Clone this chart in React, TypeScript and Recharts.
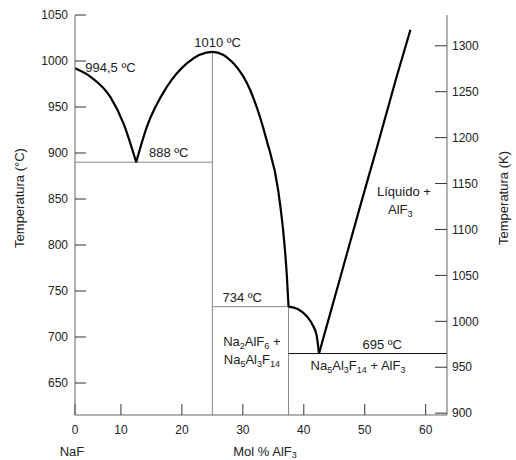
import { LineChart, Line, XAxis, YAxis, ReferenceDot } from 'recharts';

const FONT = '"Liberation Sans", Arial, Helvetica, sans-serif';

// composition axis as drawn (its left edge is labelled 0)
const X_MIN = 2.46;
const X_MAX = 63.5;
const C_MIN = 615.2;
const C_MAX = 1050;
const K_MIN = 898;
const K_MAX = 1333.5;

const xTicks = [X_MIN, 10, 20, 30, 40, 50, 60];
const topTicks = [10, 20, 30, 40, 50, 60];
const cTicks = [650, 700, 750, 800, 850, 900, 950, 1000, 1050];
const kTicks = [900, 950, 1000, 1050, 1100, 1150, 1200, 1250, 1300];

// liquidus curves: x = mol % AlF3, t = °C
const naFLiquidus = [
  { x: X_MIN, t: 992 },
  { x: 4.97, t: 983 },
  { x: 8.25, t: 961 },
  { x: 10.43, t: 932 },
  { x: 12.5, t: 890 },
];
const cryoliteLiquidus = [
  { x: 12.5, t: 890 },
  { x: 14.26, t: 928.6 },
  { x: 17.54, t: 972 },
  { x: 20.8, t: 997.5 },
  { x: 25, t: 1010 },
  { x: 28.46, t: 997.5 },
  { x: 31.2, t: 968.5 },
  { x: 33.9, t: 914 },
  { x: 35.79, t: 860 },
  { x: 36.77, t: 805 },
  { x: 37.2, t: 769 },
  { x: 37.5, t: 733 },
];
const chioliteLiquidus = [
  { x: 37.5, t: 733 },
  { x: 39, t: 730.5 },
  { x: 40.5, t: 722.5 },
  { x: 41.5, t: 712.5 },
  { x: 42.1, t: 702 },
  { x: 42.5, t: 682 },
];
const alf3Liquidus = [
  { x: 42.5, t: 682 },
  { x: 46, t: 765 },
  { x: 49.5, t: 848 },
  { x: 52, t: 906 },
  { x: 55.2, t: 982 },
  { x: 57.5, t: 1034 },
];

// invariant lines
const eutectic888 = [{ x: X_MIN, t: 890 }, { x: 25, t: 890 }];
const cryoliteLine = [{ x: 25, t: C_MIN }, { x: 25, t: 1010 }];
const peritectic734 = [{ x: 25, t: 733 }, { x: 37.5, t: 733 }];
const chioliteLine = [{ x: 37.5, t: C_MIN }, { x: 37.5, t: 733 }];
const eutectic695 = [{ x: 37.5, t: 682 }, { x: X_MAX, t: 682 }];

// text notes, "_n" = subscript
const notes = [
  { x: 4.15, t: 988, text: '994,5 ºC', anchor: 'start' },
  { x: 25.87, t: 1015.2, text: '1010 ºC', anchor: 'middle' },
  { x: 17.84, t: 895.7, text: '888 ºC', anchor: 'middle' },
  { x: 29.9, t: 738, text: '734 ºC', anchor: 'middle' },
  { x: 52.87, t: 687, text: '695 ºC', anchor: 'middle' },
  { x: 31.48, t: 690.2, text: 'Na_2AlF_6 +', anchor: 'middle' },
  { x: 31.48, t: 670.7, text: 'Na_5Al_3F_14', anchor: 'middle' },
  { x: 48.9, t: 664, text: 'Na_5Al_3F_14 + AlF_3', anchor: 'middle' },
  { x: 56.44, t: 853.3, text: 'Líquido +', anchor: 'middle' },
  { x: 55.84, t: 833.7, text: 'AlF_3', anchor: 'middle' },
];

function Formula({ text, shift = 3 }: { text: string; shift?: number }) {
  const parts = text.split(/(_\d+)/).filter(Boolean);
  let sub = false;
  return (
    <>
      {parts.map((p, i) => {
        const isSub = p.startsWith('_');
        const dy = isSub && !sub ? shift : !isSub && sub ? -shift : 0;
        sub = isSub;
        return (
          <tspan key={i} dy={dy} fontSize={isSub ? 9 : 13}>
            {isSub ? p.slice(1) : p}
          </tspan>
        );
      })}
    </>
  );
}

const curveProps = {
  xAxisId: 'b',
  yAxisId: 'C',
  dataKey: 't',
  dot: false,
  activeDot: false,
  isAnimationActive: false,
};

export default function App() {
  return (
    <div style={{ position: 'absolute', left: 0, top: 0, background: '#fff' }}>
      <LineChart
        width={516}
        height={460}
        margin={{ top: 15, right: 0, bottom: 0, left: 0 }}
        style={{ fontFamily: FONT }}
      >
        <XAxis
          xAxisId="b"
          type="number"
          dataKey="x"
          domain={[X_MIN, X_MAX]}
          allowDataOverflow
          ticks={xTicks}
          interval={0}
          height={45}
          tickSize={-11}
          tickMargin={21}
          tickFormatter={(v: number) => (v === X_MIN ? '0' : String(v))}
          tick={{ fill: '#222', fontSize: 12 }}
          axisLine={{ stroke: '#666' }}
          tickLine={{ stroke: '#333' }}
          label={{
            content: () => (
              <g fill="#222" fontSize={13}>
                <text x={72} y={456} textAnchor="middle">NaF</text>
                <text x={265} y={456} textAnchor="middle">
                  <Formula text="Mol % AlF_3" shift={2} />
                </text>
              </g>
            ),
          }}
        />
        <XAxis
          xAxisId="top"
          orientation="top"
          type="number"
          dataKey="x"
          domain={[X_MIN, X_MAX]}
          allowDataOverflow
          ticks={topTicks}
          interval={0}
          height={0}
          tickSize={-11}
          tickFormatter={() => ''}
          axisLine={{ stroke: '#666' }}
          tickLine={{ stroke: '#333' }}
        />
        <YAxis
          yAxisId="C"
          type="number"
          domain={[C_MIN, C_MAX]}
          allowDataOverflow
          ticks={cTicks}
          interval={0}
          width={75}
          tickSize={-11}
          tickMargin={18}
          tick={{ fill: '#222', fontSize: 12 }}
          axisLine={{ stroke: '#666' }}
          tickLine={{ stroke: '#333' }}
          label={{
            content: () => (
              <text
                transform="translate(24,198) rotate(-90)"
                textAnchor="middle"
                fill="#222"
                fontSize={13}
              >
                Temperatura (°C)
              </text>
            ),
          }}
        />
        <YAxis
          yAxisId="K"
          orientation="right"
          type="number"
          domain={[K_MIN, K_MAX]}
          allowDataOverflow
          ticks={kTicks}
          interval={0}
          width={69}
          tickSize={-12}
          tickMargin={17}
          tick={{ fill: '#222', fontSize: 12 }}
          axisLine={{ stroke: '#666' }}
          tickLine={{ stroke: '#333' }}
          label={{
            content: () => (
              <text
                transform="translate(508,198) rotate(-90)"
                textAnchor="middle"
                fill="#222"
                fontSize={13}
              >
                Temperatura (K)
              </text>
            ),
          }}
        />

        <Line {...curveProps} data={eutectic888} type="linear" stroke="#888" strokeWidth={1} />
        <Line {...curveProps} data={cryoliteLine} type="linear" stroke="#888" strokeWidth={1} />
        <Line {...curveProps} data={peritectic734} type="linear" stroke="#888" strokeWidth={1} />
        <Line {...curveProps} data={chioliteLine} type="linear" stroke="#888" strokeWidth={1} />
        <Line {...curveProps} data={eutectic695} type="linear" stroke="#111" strokeWidth={1} />

        <Line {...curveProps} data={naFLiquidus} type="monotone" stroke="#000" strokeWidth={2.2} />
        <Line {...curveProps} data={cryoliteLiquidus} type="monotone" stroke="#000" strokeWidth={2.2} />
        <Line {...curveProps} data={chioliteLiquidus} type="monotone" stroke="#000" strokeWidth={2.2} />
        <Line {...curveProps} data={alf3Liquidus} type="monotone" stroke="#000" strokeWidth={2.2} />

        {notes.map((n, i) => (
          <ReferenceDot
            key={i}
            xAxisId="b"
            yAxisId="C"
            x={n.x}
            y={n.t}
            r={0}
            stroke="none"
            fill="none"
            label={{
              content: (p: any) => (
                <text
                  x={p.viewBox.x}
                  y={p.viewBox.y}
                  textAnchor={n.anchor}
                  fill="#222"
                  fontSize={13}
                >
                  <Formula text={n.text} />
                </text>
              ),
            }}
          />
        ))}
      </LineChart>
    </div>
  );
}
